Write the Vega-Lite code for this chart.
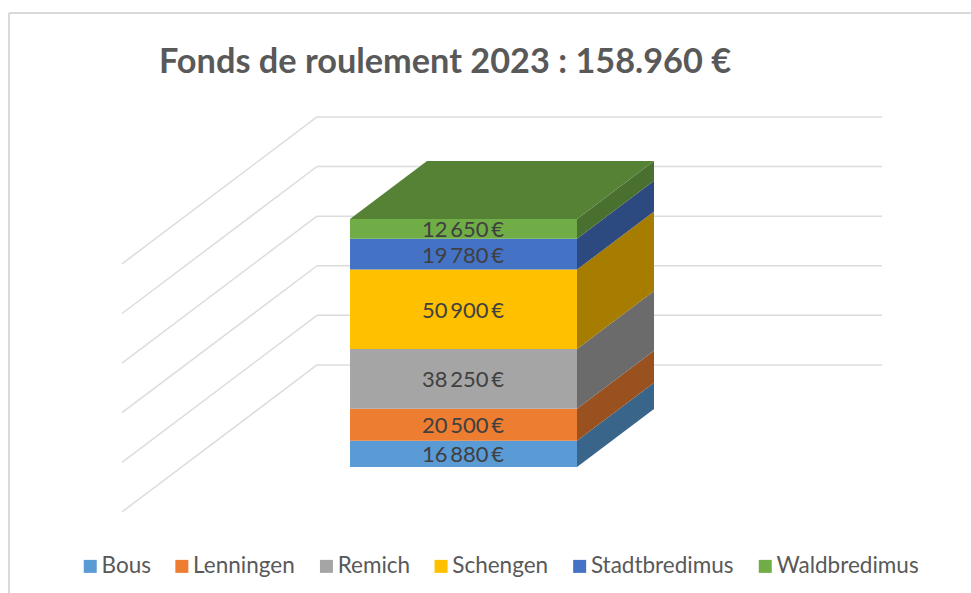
{
"$schema":"https://vega.github.io/schema/vega-lite/v6.json",
"width":962,"height":580,
"autosize":"none",
"padding":{"left":9,"top":13,"right":0,"bottom":0},
"background":"white",
"config":{"view":{"stroke":null},"font":"Lato"},
"title":{"text":"Fonds de roulement 2023 : 158.960 €","frame":"group","anchor":"start","dx":150,"offset":-95,"baseline":"alphabetic","font":"Lato","fontSize":34.3,"fontWeight":"bold","color":"#595959"},
"datasets":{
"fund":[
{"series":"Bous","value":16880},
{"series":"Lenningen","value":20500},
{"series":"Remich","value":38250},
{"series":"Schengen","value":50900},
{"series":"Stadtbredimus","value":19780},
{"series":"Waldbredimus","value":12650}],
"grid":[{"level":65400},{"level":97200},{"level":129000},{"level":160800},{"level":192600},{"level":224400}]
},
"resolve":{"scale":{"color":"independent"}},
"layer":[
{"data":{"name":"grid"},"mark":{"type":"rule","color":"#dcdcdc","strokeWidth":1.5},
"encoding":{"x":{"datum":308,"type":"quantitative","scale":{"domain":[0,962],"nice":false,"zero":false},"axis":null},"x2":{"datum":873},
"y":{"field":"level","type":"quantitative","scale":{"domain":[-80762,291001],"nice":false,"zero":false},"axis":null}}},
{"data":{"name":"grid"},"transform":[{"calculate":"datum.level-94200","as":"front"}],"mark":{"type":"rule","color":"#dcdcdc","strokeWidth":1.5},
"encoding":{"x":{"datum":113,"type":"quantitative"},"x2":{"datum":308},
"y":{"field":"front","type":"quantitative"},"y2":{"field":"level"}}},
{"data":{"name":"fund"},"mark":{"type":"rule","color":"#d9d9d9","strokeWidth":2},"encoding":{"x":{"datum":0,"type":"quantitative"}}},
{"data":{"name":"fund"},"mark":{"type":"rule","color":"#d9d9d9","strokeWidth":2},"encoding":{"y":{"datum":291001,"type":"quantitative"}}},
{"data":{"name":"fund"},
"transform":[{"stack":"value","groupby":[],"sort":[{"field":"series","order":"ascending"}],"as":["y0","y1"]}],
"mark":{"type":"rect"},
"encoding":{"x":{"datum":341,"type":"quantitative"},"x2":{"datum":568},
"y":{"field":"y0","type":"quantitative"},"y2":{"field":"y1"},
"color":{"field":"series","type":"nominal","scale":{"domain":["Bous","Lenningen","Remich","Schengen","Stadtbredimus","Waldbredimus"],"range":["#5B9BD5","#ED7D31","#A5A5A5","#FFC000","#4472C4","#70AD47"]},
"legend":{"title":null,"orient":"none","direction":"horizontal","columns":6,"legendX":70,"legendY":542,"symbolType":"square","symbolSize":169,"symbolStrokeWidth":0,"labelFont":"Lato","labelFontSize":22.5,"labelColor":"#595959","labelOffset":0,"columnPadding":19.6,"labelLimit":300}}}},
{"data":{"name":"fund"},
"transform":[{"stack":"value","groupby":[],"sort":[{"field":"series","order":"ascending"}],"as":["y0","y1"]},
{"calculate":"[0,1]","as":"depth"},{"flatten":["depth"]},
{"calculate":"568+77*datum.depth","as":"sx"},
{"calculate":"datum.y0+37176*datum.depth","as":"sy0"},
{"calculate":"datum.y1+37176*datum.depth","as":"sy1"}],
"mark":{"type":"area","orient":"vertical"},
"encoding":{"x":{"field":"sx","type":"quantitative"},
"y":{"field":"sy0","type":"quantitative"},"y2":{"field":"sy1"},
"color":{"field":"series","type":"nominal","legend":null,"scale":{"domain":["Bous","Lenningen","Remich","Schengen","Stadtbredimus","Waldbredimus"],"range":["#3A658B","#9A5120","#6B6B6B","#A67D00","#2C4A80","#49702E"]}}}},
{"data":{"name":"fund"},
"transform":[{"stack":"value","groupby":[],"sort":[{"field":"series","order":"ascending"}],"as":["y0","y1"]},
{"filter":"datum.series==='Waldbredimus'"},
{"calculate":"[0,1]","as":"depth"},{"flatten":["depth"]},
{"calculate":"341+77*datum.depth","as":"tx0"},
{"calculate":"568+77*datum.depth","as":"tx1"},
{"calculate":"datum.y1+37176*datum.depth","as":"ty"}],
"mark":{"type":"area","orient":"horizontal","color":"#568235"},
"encoding":{"y":{"field":"ty","type":"quantitative"},"x":{"field":"tx0","type":"quantitative"},"x2":{"field":"tx1"}}},
{"data":{"name":"fund"},
"transform":[{"stack":"value","groupby":[],"sort":[{"field":"series","order":"ascending"}],"as":["y0","y1"]},
{"calculate":"(datum.y0+datum.y1)/2","as":"mid"},
{"calculate":"replace(format(datum.value,','),',','\u2009')+'\u2009€'","as":"label"}],
"mark":{"type":"text","font":"Lato","fontSize":22,"color":"#404040","align":"center","baseline":"middle","dy":1.5},
"encoding":{"x":{"datum":454,"type":"quantitative"},"y":{"field":"mid","type":"quantitative"},"text":{"field":"label"}}}
]
}
